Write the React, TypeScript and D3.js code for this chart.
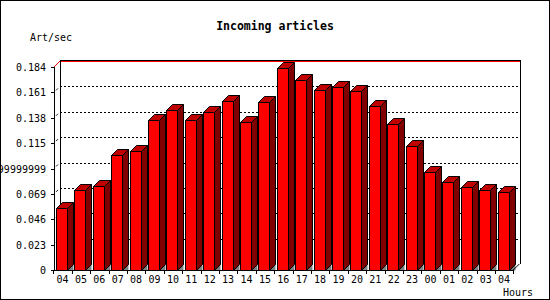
import React from "react";
import * as d3 from "d3";

const hours = ["04","05","06","07","08","09","10","11","12","13","14","15","16","17","18","19","20","21","22","23","00","01","02","03","04"];
const values = [0.0562,0.0722,0.0758,0.1039,0.1076,0.1357,0.1447,0.1357,0.1429,0.1529,0.1339,0.1520,0.1828,0.1722,0.1629,0.1656,0.1620,0.1484,0.1321,0.1121,0.0886,0.0795,0.0750,0.0722,0.0704];
const tickValues = [0, 0.023, 0.046, 0.069, 0.092, 0.115, 0.138, 0.161, 0.184];
const tickLabels = ["0","0.023","0.046","0.069","0.09199999999999999","0.115","0.138","0.161","0.184"];
const title = "Incoming articles";
const yTitle = "Art/sec";
const xTitle = "Hours";

const W = 550, H = 300;
const D = 6; // depth
const FONT = "'DejaVu Sans Mono', monospace";

export default function App() {
  const keys = hours.map((h, i) => i + ":" + h);
  const x = d3.scaleBand<string>().domain(keys).range([53.3, 513.3]).paddingInner(0).paddingOuter(0);
  const y = d3.scaleLinear().domain([0, 0.184]).range([270, 67]);
  const bw = x.bandwidth();
  const fw = 11;
  const x0 = 54, xr = 513.3;
  const yb = y(0), yt = y(0.184);

  return (
    <svg width={W} height={H} style={{ position: "absolute", left: 0, top: 0, background: "#fff" }} shapeRendering="crispEdges">
      <rect x={0.5} y={0.5} width={549} height={299} fill="#fff" stroke="#000" />
      <text x={275} y={30} textAnchor="middle" fontFamily={FONT} fontWeight="bold" fontSize={11.5}>{title}</text>
      <text x={30} y={40.5} fontFamily={FONT} fontSize={10}>{yTitle}</text>
      <text x={533} y={295.5} textAnchor="end" fontFamily={FONT} fontSize={10}>{xTitle}</text>

      {/* back wall gridlines */}
      {tickValues.slice(1, -1).map((t, i) => (
        <line key={"g" + i} x1={x0 + D} x2={520} y1={Math.round(y(t) - D) + 0.5} y2={Math.round(y(t) - D) + 0.5} stroke="#000" strokeDasharray="2,2" />
      ))}
      {tickValues.slice(1, -1).map((t, i) => (
        <line key={"d" + i} x1={x0 + 2} y1={y(t) - 2} x2={x0 + 4} y2={y(t) - 4} stroke="#000" shapeRendering="auto" strokeWidth={0.9} />
      ))}
      {/* top border of back wall */}
      <line x1={x0 + D} x2={520.5} y1={60.5} y2={60.5} stroke="#000" />
      <line x1={x0 + D} x2={520} y1={61.5} y2={61.5} stroke="#f00" />
      <line x1={x0} y1={yt} x2={x0 + D} y2={yt - D} stroke="#f00" shapeRendering="auto" />
      {/* back wall sides */}
      <line x1={x0 + D + 0.5} x2={x0 + D + 0.5} y1={61} y2={yb - D} stroke="#000" />
      <line x1={520.5} x2={520.5} y1={60} y2={yb - D} stroke="#000" />

      {/* bars */}
      {values.map((v, i) => {
        const bx = Math.round((x(keys[i]) as number) + 2.7) + 0.5;
        const top = Math.round(y(v)) + 0.5;
        const r = bx + fw;
        const b = yb + 0.5;
        return (
          <g key={"b" + i} stroke="#000" strokeWidth={1} shapeRendering="auto" strokeLinejoin="miter">
            <polygon points={`${r},${b} ${r + D},${b - D} ${r + D},${b}`} fill="#808080" stroke="none" />
            <polygon points={`${r},${top} ${r + D},${top - D} ${r + D},${b - D} ${r},${b}`} fill="#800000" />
            <polygon points={`${bx},${top} ${bx + D},${top - D} ${r + D},${top - D} ${r},${top}`} fill="#c00000" />
            <rect x={bx} y={top} width={fw} height={b - top} fill="#ff0000" />
          </g>
        );
      })}

      {/* front axes */}
      <line x1={x0 + 0.5} x2={x0 + 0.5} y1={yt} y2={yb} stroke="#000" />
      <line x1={x0} x2={xr} y1={yb + 0.5} y2={yb + 0.5} stroke="#000" />
      <line x1={xr} y1={yb} x2={xr + D} y2={yb - D} stroke="#000" shapeRendering="auto" />
      {tickValues.map((t, i) => (
        <g key={"yt" + i}>
          <line x1={x0 - 3} x2={x0} y1={Math.round(y(t)) + 0.5} y2={Math.round(y(t)) + 0.5} stroke="#000" />
          <text x={46} y={y(t) + 4} textAnchor="end" fontFamily={FONT} fontSize={10}>{tickLabels[i]}</text>
        </g>
      ))}
      {keys.map((k, i) => {
        const bx = x(k) as number;
        return (
          <g key={"xt" + i}>
            <line x1={Math.round(bx) + 0.5} x2={Math.round(bx) + 0.5} y1={yb} y2={yb + 4} stroke="#000" />
            <text x={bx + bw / 2} y={283} textAnchor="middle" fontFamily={FONT} fontSize={10}>{hours[i]}</text>
          </g>
        );
      })}
      <line x1={Math.round(xr) + 0.5} x2={Math.round(xr) + 0.5} y1={yb} y2={yb + 4} stroke="#000" />
    </svg>
  );
}
